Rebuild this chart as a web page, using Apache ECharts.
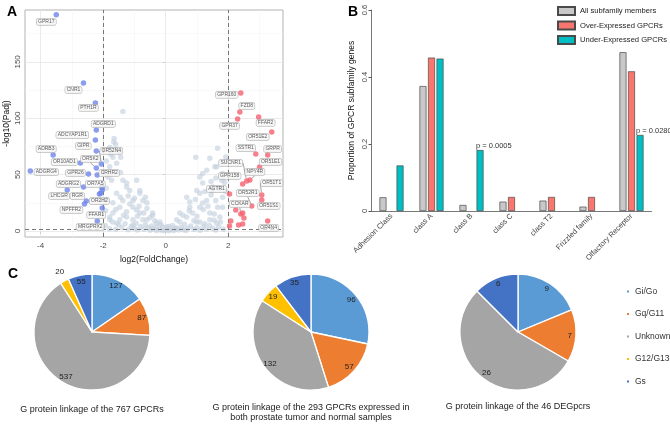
<!DOCTYPE html>
<html><head><meta charset="utf-8">
<script src="https://cdn.jsdelivr.net/npm/echarts@6/dist/echarts.min.js"></script>
<style>html,body{margin:0;padding:0;background:#fff}#c{width:670px;height:424px}</style>
</head><body><div id="c"></div>
<script>
// ---------- Panel A: volcano ----------
const downGenes = [
  ['GPR17',-3.50,191.7],['CNR1',-2.63,131.3],['PTH1R',-2.25,113.6],['ADGRD1',-2.22,89.6],
  ['ADCYAP1R1',-2.25,80.7],['GIPR',-2.22,71.0],['OR52N4',-2.06,59.5],['OR5K2',-2.22,55.9],
  ['ADRB3',-3.60,67.4],['OR10AD1',-2.73,60.3],['ADGRG4',-4.33,53.2],['GPR26',-2.47,50.6],
  ['CRHR2',-2.19,49.7],['ADGRG2',-2.63,39.0],['OR7A5',-2.03,36.4],['LHCGR',-3.15,36.4],
  ['RGR',-2.54,26.6],['OR2H2',-2.12,32.8],['NPFFR2',-2.60,24.0],['FFAR1',-2.03,20.4],['MRGPRX2',-2.19,8.9]
];
const upGenes = [
  ['GPR160',2.40,122.5],['FZD8',2.37,105.6],['GPR37',2.30,99.4],['FFAR2',2.97,101.2],
  ['OR51E2',3.39,87.8],['SSTR1',2.88,68.3],['GRPR',3.26,67.4],['OR51E1',3.00,56.8],
  ['SUCNR1',2.59,44.4],['NPY4R',2.69,45.3],['GPR158',2.46,41.7],['AGTR1',2.04,32.8],
  ['OR51T1',3.07,31.9],['OR52R1',2.75,22.2],['OR51S1',3.07,27.5],['CCKAR',2.40,15.1],['OR4N4',3.26,8.9]
];
const downOther = [[-2.04,38.5],[-2.08,33.5]];
const upOther = [[2.24,18.6],[2.46,16.0],[2.50,11.5],[2.33,5.3],[2.46,6.2],[2.08,8.9],[2.04,4.4]];
const nonSig = [
  [-1.37,106],[-1.66,79],[-1.60,77],[-1.57,72],[-1.79,74],[-1.76,68],[-1.44,65.5],[-1.57,60],[-1.79,57],
  [-1.44,52],[-1.37,45],[-1.73,45],[-1.25,42.5],[-0.93,45],[-1.15,36],[-0.83,33.6],[-1.57,33.6],[-1.37,27],
  [-1.00,29],[-0.73,27],[-1.69,25],[-1.05,21],[-0.60,20],[-1.25,17],[-0.83,16],[-0.42,14],[-1.79,12.4],
  [-1.47,10],[-1.05,10],[-0.60,10],[-0.19,8],[0.03,3.5],[-0.29,3.5],[-1.47,70],[-1.69,65.5],[-1.25,39],
  [-0.83,36],[-1.05,27],[-0.60,25],[-1.47,21],[-0.93,18.6],[-0.42,16],[-1.69,16],[-1.25,12.4],[-0.73,10],
  [-0.29,7],[-1.57,7],[-1.05,5.3],[-0.10,3.5],[-1.79,10],[-1.65,82],[-1.90,62],[-1.85,48],[-1.90,38],
  [-1.88,28],[-1.92,18],[-1.93,5],
  [0.22,5],[0.45,8],[0.67,12.4],[0.86,16],[0.77,21],[1.09,21],[0.67,30],[1.31,27],[1.09,33.6],[1.50,36],
  [1.09,48],[1.31,54],[1.63,57],[0.96,65.5],[1.66,73.5],[1.79,45],[1.82,30],[1.82,21],[1.73,12.4],[1.41,10],
  [0.99,8],[0.35,2.6],[1.41,64.6],[1.57,57],[1.18,51],[1.82,51],[1.88,43],[1.50,39],[1.18,42.5],[0.99,36],
  [0.77,25.7],[1.18,24.8],[1.66,21],[0.45,16],[1.41,16],[0.35,10],[1.09,8],[1.63,7],[1.92,65.6],[1.95,62],[1.92,35],
  [-1.80,2],[-1.60,1.5],[-1.40,3],[-1.20,1.2],[-1.00,2.2],[-0.90,0.8],[-0.80,4],[-0.70,1.6],[-0.55,2.8],
  [-0.50,0.6],[-0.40,1.8],[-0.30,0.4],[-0.20,1.2],[-0.10,0.3],[0.00,0.8],[0.10,0.2],[0.15,1.6],[0.25,0.5],
  [0.30,2.2],[0.40,0.9],[0.50,3.2],[0.55,1.1],[0.65,0.4],[0.70,2.5],[0.80,4.5],[0.90,1.3],[1.00,2.8],[1.10,0.7],
  [1.20,4],[1.30,1.8],[1.40,5],[1.50,2.5],[1.60,0.9],[1.70,3.5],[1.85,1.5],[-1.50,5.5],[-1.30,6.5],[-1.10,4],
  [-0.95,7],[-0.65,5.5],[-0.45,4.5],[-0.35,9],[0.60,6],[0.90,9],[1.25,6.5],[1.55,9.5],[-1.70,8],[-0.15,5.5],
  [0.10,4],[1.75,8],
  [-1.60,19],[-1.35,14],[-1.15,24],[-0.90,13],[-0.70,16],[-0.50,12],[-0.85,22],[-1.45,30],[-1.20,31],[-0.65,30],
  [0.55,14],[0.75,18],[1.00,13],[1.20,19],[1.35,22],[1.55,15],[1.60,27],[1.45,32],[0.95,28],[1.25,35],[1.70,38],
  [1.60,47],[1.45,44]
];
const xTicks = [-4,-2,0,2];
const yTicks = [0,50,100,150];
const xGrid = [-4,-3,-2,-1,0,1,2,3];
const yGrid = [0,25,50,75,100,125,150,175];
const thresholds = {fc:[-2,2], padj:1.3};
// label offsets (pixels, label centre relative to point)
const labelOffsets = {
  GPR17:[-10,7],CNR1:[-10,7],PTH1R:[-7,5],ADGRD1:[7,-6],ADCYAP1R1:[-23,-5],GIPR:[-13,-5],OR52N4:[10,-13],
  OR5K2:[-6,-9],ADRB3:[-7,-6],OR10AD1:[-16,-1],ADGRG4:[16,1],GPR26:[-13,-1],CRHR2:[12,-2],ADGRG2:[-15,-3],
  OR7A5:[-7,-6],LHCGR:[-8,6],RGR:[-9,-5],OR2H2:[0,7],NPFFR2:[-13,6],FFAR1:[-6,7],MRGPRX2:[-7,6],
  GPR160:[-14,2],FZD8:[7,-6],GPR37:[-8,7],FFAR2:[7,6],OR51E2:[-14,5],SSTR1:[-10,-6],GRPR:[5,-6],OR51E1:[11,-5],
  SUCNR1:[-16,-18],NPY4R:[5,-8],GPR158:[-13,-8],AGTR1:[-13,-5],OR51T1:[10,-12],OR52R1:[-4,-13],OR51S1:[7,6],
  CCKAR:[-1,-10],OR4N4:[1,7]
};
const lineGenes = ['OR52N4','OR5K2','SUCNR1','NPY4R','OR51T1','OR52R1','CCKAR'];

// ---------- Panel B: bars ----------
const classes = ['Adhesion Class','class A','class B','class C','class T2','Frizzled family','Olfactory Receptor'];
const allMembers = [0.041,0.373,0.018,0.028,0.031,0.013,0.474];
const overExpr = [null,0.458,null,0.042,0.042,0.042,0.417];
const underExpr = [0.136,0.455,0.182,null,null,null,0.227];
const pLabels = ['','','p = 0.0005','','','','p = 0.0280'];
const barSeriesNames = ['All subfamily members','Over-Expressed GPCRs','Under-Expressed GPCRs'];

// ---------- Panel C: pies ----------
const gCategories = ['Gi/Go','Gq/G11','Unknown','G12/G13','Gs'];
const pie767 = [127,87,537,20,55];
const pie293 = [96,57,132,19,35];
const pie46 = [9,7,26,0,6];
const pieTitles = ['G protein linkage of the 767 GPCRs',
  'G protein linkage of the 293 GPCRs expressed in\nboth prostate tumor and normal samples',
  'G protein linkage of the 46 DEGpcrs'];

// ---------- build ----------
const FONT = '"Liberation Sans", Arial, sans-serif';
const gColors = ['#5B9BD5','#ED7D31','#A5A5A5','#FFC000','#4472C4'];
const barColors = ['#C8C8C8','#F8766D','#00BFC4'];

function labeledData(arr){
  return arr.map(d => ({name:d[0], value:[d[1],d[2]],
    labelLine:{show: lineGenes.includes(d[0]), lineStyle:{color:'#666', width:0.6}}}));
}
const geneLabel = {
  show:true, position:'inside', formatter:'{b}', fontSize:5, fontFamily:FONT, color:'#333',
  backgroundColor:'rgba(246,246,246,0.95)', borderColor:'#9a9a9a', borderWidth:0.5, borderRadius:1.5,
  padding:[1,1.5,0.5,1.5]
};
function layoutFor(arr){
  return function(p){ const o = labelOffsets[arr[p.dataIndex][0]] || [0,0]; return {dx:o[0], dy:o[1]}; };
}

const pieCenters = [[92,332],[311,332],[518,332]];
const pieR = 58;
const pieSets = [pie767, pie293, pie46];
const series = [];

series.push({type:'scatter', xAxisIndex:0, yAxisIndex:0, data:[], silent:true,
  markLine:{silent:true, symbol:'none', z:1, label:{show:false}, animation:false,
    data: xGrid.map(v => ({xAxis:v, lineStyle:{color: v%2===0 ? '#e6e6e6' : '#f2f2f2', width: v%2===0?0.8:0.5, type:'solid'}}))
      .concat(yGrid.map(v => ({yAxis:v, lineStyle:{color: v%50===0 ? '#e6e6e6' : '#f2f2f2', width: v%50===0?0.8:0.5, type:'solid'}})))}});
series.push({type:'scatter', xAxisIndex:0, yAxisIndex:0, data:nonSig, symbolSize:5.5, z:2,
  itemStyle:{color:'rgba(196,208,222,0.8)'}, silent:true});
series.push({type:'scatter', xAxisIndex:0, yAxisIndex:0, data:[], silent:true, z:3,
  markLine:{silent:true, symbol:'none', z:3, label:{show:false}, animation:false,
    lineStyle:{color:'#777', type:[4,3], width:1},
    data: thresholds.fc.map(v => ({xAxis:v})).concat([{yAxis:thresholds.padj}])}});
series.push({type:'scatter', xAxisIndex:0, yAxisIndex:0, data:downOther, symbolSize:5.5, z:4,
  itemStyle:{color:'#6E85EA'}});
series.push({type:'scatter', xAxisIndex:0, yAxisIndex:0, data:upOther, symbolSize:5.5, z:4,
  itemStyle:{color:'#F4606E'}});
series.push({type:'scatter', xAxisIndex:0, yAxisIndex:0, data:labeledData(downGenes), symbolSize:5.5, z:5,
  itemStyle:{color:'#6E85EA'}, label:geneLabel, labelLayout:layoutFor(downGenes)});
series.push({type:'scatter', xAxisIndex:0, yAxisIndex:0, data:labeledData(upGenes), symbolSize:5.5, z:5,
  itemStyle:{color:'#F4606E'}, label:geneLabel, labelLayout:layoutFor(upGenes)});

[allMembers, overExpr, underExpr].forEach((vals, i) => {
  const s = {type:'bar', name:barSeriesNames[i], xAxisIndex:1, yAxisIndex:1, data:vals.map(v => v===null?'-':v),
    barWidth:7, barGap:'22%', itemStyle:{color:barColors[i], borderColor:'#4a4a4a', borderWidth:0.7}};
  if (i === 2) {
    s.label = {show:true, position:'top', align:'left', offset:[-4,1], distance:1, fontSize:7.5, fontFamily:FONT, color:'#333',
      formatter: p => pLabels[p.dataIndex]};
  }
  series.push(s);
});

pieSets.forEach((vals, k) => {
  const total = vals.reduce((a,b)=>a+b,0);
  const items = vals.map((v,i) => v>0 ? {name:gCategories[i], value:v, itemStyle:{color:gColors[i]}} : {name:gCategories[i], value:'-'});
  series.push({type:'pie', center:pieCenters[k], radius:[0,pieR], startAngle:90, clockwise:true, data:items,
    label:{show:false}, labelLine:{show:false}, silent:true, animation:false,
    itemStyle:{borderColor:'#fff', borderWidth:1.3}});
  const mk = (factor, cond) => ({type:'pie', center:pieCenters[k], radius:[0,pieR*factor], startAngle:90, clockwise:true,
    silent:true, animation:false, z:5,
    data: vals.map(v => ({value: v>0? v : '-', label:{show: v>0 && cond(v/total)}})),
    itemStyle:{color:'rgba(0,0,0,0)', borderWidth:0},
    label:{position:'inside', formatter:'{c}', fontSize:8, fontFamily:FONT, color:'#222'}, labelLine:{show:false}});
  series.push(mk(1.68, f => f >= 0.04));
  series.push(mk(2.24, f => f < 0.04));
});

const titles = [
  {text:'A', left:2, top:0, textStyle:{fontSize:14, fontWeight:'bold', fontFamily:FONT, color:'#000'}},
  {text:'B', left:343, top:0, textStyle:{fontSize:14, fontWeight:'bold', fontFamily:FONT, color:'#000'}},
  {text:'C', left:3, top:262, textStyle:{fontSize:14, fontWeight:'bold', fontFamily:FONT, color:'#000'}}
];
const titleTops = [404, 402, 401];
pieTitles.forEach((t,k) => titles.push({text:t, left:pieCenters[k][0], top:titleTops[k], textAlign:'center', padding:0,
  textStyle:{fontSize:9, fontWeight:'normal', fontFamily:FONT, color:'#222', lineHeight:10.5}}));

const option = {
  animation:false,
  backgroundColor:'#fff',
  textStyle:{fontFamily:FONT},
  title: titles,
  grid:[
    {left:25, top:10, width:258, height:227, show:true, borderColor:'#b3b3b3', borderWidth:1, backgroundColor:'#fff'},
    {left:371.5, top:10, width:280, height:201}
  ],
  xAxis:[
    {gridIndex:0, type:'value', min:-4.5, max:3.75, splitLine:{show:false}, axisLine:{show:false},
      axisTick:{show:true, customValues:xTicks, length:3, lineStyle:{color:'#666'}},
      axisLabel:{customValues:xTicks, fontSize:8, color:'#4d4d4d', margin:5, fontFamily:FONT},
      name:'log2(FoldChange)', nameLocation:'middle', nameGap:16, nameTextStyle:{fontSize:8.5, color:'#111', fontFamily:FONT}},
    {gridIndex:1, type:'category', data:classes, axisLine:{lineStyle:{color:'#555', width:0.8}},
      axisTick:{show:false}, axisLabel:{interval:0, rotate:45, fontSize:7.5, color:'#444', margin:4, fontFamily:FONT}}
  ],
  yAxis:[
    {gridIndex:0, type:'value', min:-5.3, max:196, splitLine:{show:false}, axisLine:{show:false},
      axisTick:{show:true, customValues:yTicks, length:3, lineStyle:{color:'#666'}},
      axisLabel:{customValues:yTicks, rotate:90, fontSize:8, color:'#4d4d4d', margin:3, fontFamily:FONT},
      name:'-log10(Padj)', nameLocation:'middle', nameGap:14, nameTextStyle:{fontSize:8.5, color:'#111', fontFamily:FONT}},
    {gridIndex:1, type:'value', min:0, max:0.6, interval:0.2, splitLine:{show:false},
      axisLine:{show:true, lineStyle:{color:'#555', width:0.8}}, axisTick:{show:true, length:3, lineStyle:{color:'#555'}},
      axisLabel:{rotate:90, fontSize:7.5, color:'#444', margin:3, fontFamily:FONT, formatter: v => String(+v.toFixed(1))},
      name:'Proportion of GPCR subfamily genes', nameLocation:'middle', nameGap:15,
      nameTextStyle:{fontSize:8.5, color:'#111', fontFamily:FONT}}
  ],
  legend:[
    {data:barSeriesNames, orient:'vertical', left:557, top:6, padding:0, itemWidth:17, itemHeight:8, itemGap:4.5, itemTextGap:3,
      icon:'rect', textStyle:{fontSize:7.6, color:'#222', fontFamily:FONT}, selectedMode:false},
    {data:gCategories, orient:'vertical', left:625, top:287, padding:0, itemWidth:4, itemHeight:4, itemGap:13.5, itemTextGap:2,
      icon:'rect', textStyle:{fontSize:8.5, color:'#333', fontFamily:FONT}, selectedMode:false}
  ],
  series: series
};
const chart = echarts.init(document.getElementById('c'), null, {renderer:'canvas'});
chart.setOption(option);
</script></body></html>
